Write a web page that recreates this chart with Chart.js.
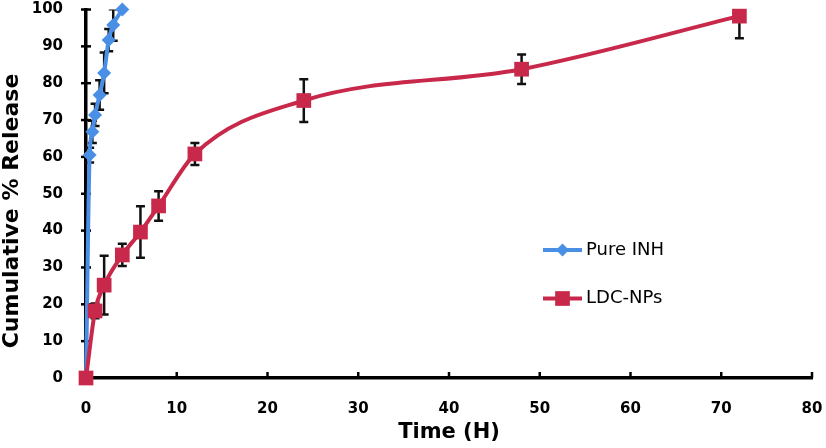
<!DOCTYPE html>
<html><head><meta charset="utf-8">
<script src="https://cdn.jsdelivr.net/npm/chart.js@4/dist/chart.umd.min.js"></script>
<style>html,body{margin:0;padding:0;background:#fff}#wrap{width:826px;height:448px;position:relative}</style>
</head><body><div id="wrap"><canvas id="c" width="826" height="448"></canvas></div>
<script>
// ---- data ----
const seriesNames = ['Pure INH', 'LDC-NPs'];
const inhTime    = [0, 0.4, 0.7, 1, 1.5, 2, 2.5, 3, 4];
const inhRelease = [0, 60.5, 66.8, 71.4, 76.8, 82.8, 91.7, 95.8, 100];
const inhError   = [0, 2, 3, 3, 4, 5.5, 3, 4.3, 0];
const ldcTime    = [0, 1, 2, 4, 6, 8, 12, 24, 48, 72];
const ldcRelease = [0, 18.2, 25.2, 33.4, 39.6, 46.7, 60.8, 75.3, 83.8, 98.2];
const ldcError   = [0, 2, 8, 3, 7, 4, 3, 5.8, 4, 6];
const xTickLabels = ['0','10','20','30','40','50','60','70','80'];
const yTickLabels = ['0','10','20','30','40','50','60','70','80','90','100'];
const xTitle = 'Time (H)';
const yTitle = 'Cumulative % Release';

const BLUE = '#4A8FE6';
const RED = '#C8294A';
const toPts = (xs, ys) => xs.map((x, i) => ({x: x, y: ys[i]}));
const errorsByDataset = [inhError, ldcError];

const errorBarPlugin = {
  id: 'errorBars',
  beforeDatasetsDraw(chart) {
    const ctx = chart.ctx, xs = chart.scales.x, ys = chart.scales.y, a = chart.chartArea;
    ctx.save();
    ctx.beginPath(); ctx.rect(a.left - 10, a.top, a.right - a.left + 20, a.bottom - a.top); ctx.clip();
    ctx.strokeStyle = '#111'; ctx.lineWidth = 2.5; ctx.lineCap = 'butt';
    chart.data.datasets.forEach((ds, di) => {
      const errs = errorsByDataset[di];
      ds.data.forEach((p, i) => {
        const e = errs[i]; if (!e) return;
        const px = xs.getPixelForValue(p.x);
        const yt = ys.getPixelForValue(p.y + e), yb = ys.getPixelForValue(p.y - e);
        ctx.beginPath();
        ctx.moveTo(px, yt); ctx.lineTo(px, yb);
        ctx.moveTo(px - 4.5, yt); ctx.lineTo(px + 4.5, yt);
        ctx.moveTo(px - 4.5, yb); ctx.lineTo(px + 4.5, yb);
        ctx.stroke();
      });
    });
    ctx.restore();
    // tick marks: crossing on y axis, inside on x axis
    ctx.save();
    ctx.strokeStyle = '#000'; ctx.lineWidth = 2.5;
    const x0 = xs.getPixelForValue(0), y0 = ys.getPixelForValue(0);
    ys.ticks.forEach(t => {
      const py = ys.getPixelForValue(t.value);
      ctx.beginPath(); ctx.moveTo(x0 - 5, py); ctx.lineTo(x0 + 5, py); ctx.stroke();
    });
    xs.ticks.forEach(t => {
      if (t.value === 0) return;
      const px = xs.getPixelForValue(t.value);
      ctx.beginPath(); ctx.moveTo(px, y0); ctx.lineTo(px, y0 - 6); ctx.stroke();
    });
    ctx.restore();
  }
};

const annotPlugin = {
  id: 'annot',
  afterDraw(chart) {
    const ctx = chart.ctx;
    // y axis title
    ctx.save();
    ctx.fillStyle = '#000';
    ctx.font = 'bold 22px "DejaVu Sans"';
    ctx.textAlign = 'center'; ctx.textBaseline = 'middle';
    ctx.translate(12, 211); ctx.rotate(-Math.PI / 2);
    ctx.fillText(yTitle, 0, 0);
    ctx.restore();
    // legend
    const items = [
      {name: seriesNames[0], color: BLUE, style: 'rectRot', r: 6.5, y: 250},
      {name: seriesNames[1], color: RED, style: 'rect', r: 10.4, y: 298.5}
    ];
    ctx.save();
    items.forEach(it => {
      ctx.strokeStyle = it.color; ctx.lineWidth = 4;
      ctx.beginPath(); ctx.moveTo(543, it.y); ctx.lineTo(582, it.y); ctx.stroke();
      ctx.fillStyle = it.color;
      Chart.helpers.drawPoint(ctx, {pointStyle: it.style, radius: it.r, borderWidth: 0, rotation: 0}, 562.5, it.y);
      ctx.fillStyle = '#000';
      ctx.font = '18px "DejaVu Sans"';
      ctx.textAlign = 'left'; ctx.textBaseline = 'middle';
      ctx.fillText(it.name, 586, it.y);
    });
    ctx.restore();
  }
};

new Chart(document.getElementById('c'), {
  type: 'scatter',
  data: {
    datasets: [
      {
        label: seriesNames[0], data: toPts(inhTime, inhRelease), showLine: true,
        borderColor: BLUE, backgroundColor: BLUE, borderWidth: 4, cubicInterpolationMode: 'monotone',
        pointStyle: 'rectRot', pointRadius: 7, pointBorderWidth: 0, pointHoverRadius: 7,
        clip: false, order: 1
      },
      {
        label: seriesNames[1], data: toPts(ldcTime, ldcRelease), showLine: true,
        borderColor: RED, backgroundColor: RED, borderWidth: 4, cubicInterpolationMode: 'monotone',
        pointStyle: 'rect', pointRadius: 10.4, pointBorderWidth: 0, pointHoverRadius: 10.4,
        clip: false, order: 0
      }
    ]
  },
  options: {
    responsive: false, devicePixelRatio: 1, animation: false,
    events: [],
    layout: {autoPadding: false, padding: {top: 9.5, right: 14, left: 0, bottom: 0}},
    plugins: {legend: {display: false}, tooltip: {enabled: false}},
    scales: {
      x: {
        type: 'linear', min: 0, max: 80,
        afterBuildTicks: s => { s.ticks = xTickLabels.map(v => ({value: +v})); },
        afterFit: s => { s.height = 70; s.paddingLeft = 0; s.paddingRight = 0; },
        grid: {display: false, drawTicks: false},
        border: {display: true, color: '#000', width: 3.5},
        ticks: {color: '#000', padding: 22, font: {family: 'DejaVu Sans', weight: 'bold', size: 15},
                callback: (v, i) => xTickLabels[i]},
        title: {display: true, text: xTitle, color: '#000', padding: {top: 0, bottom: 2.4},
                font: {family: 'DejaVu Sans', weight: 'bold', size: 21}}
      },
      y: {
        type: 'linear', min: 0, max: 100,
        afterBuildTicks: s => { s.ticks = yTickLabels.map(v => ({value: +v})); },
        afterFit: s => { s.width = 86; s.paddingTop = 0; s.paddingBottom = 0; },
        grid: {display: false, drawTicks: false},
        border: {display: true, color: '#000', width: 3.5},
        ticks: {color: '#000', padding: 23, font: {family: 'DejaVu Sans', weight: 'bold', size: 15},
                callback: (v, i) => yTickLabels[i]}
      }
    }
  },
  plugins: [errorBarPlugin, annotPlugin]
});
</script>
</body></html>
